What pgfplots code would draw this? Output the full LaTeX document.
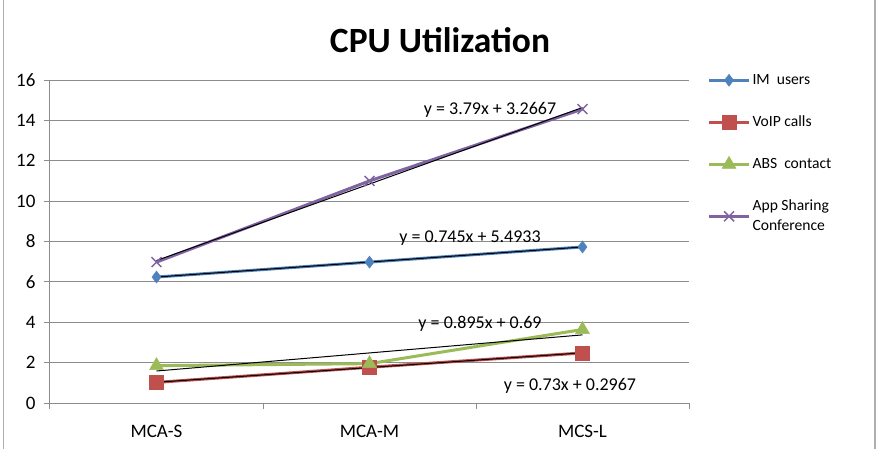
\documentclass[border=0pt]{standalone}
\usepackage{pgfplots}
\pgfplotsset{compat=1.18}
\usepackage{fontspec}
\setmainfont{Carlito}

\definecolor{imblue}{HTML}{4F81BD}
\definecolor{voipred}{HTML}{C0504D}
\definecolor{absgreen}{HTML}{9BBB59}
\definecolor{apppurple}{HTML}{8064A2}
\definecolor{gridgray}{HTML}{8C8C8C}

\begin{document}
\begin{tikzpicture}[x=1pt,y=1pt]
\useasboundingbox (0pt,0pt) rectangle (881pt,448pt);
% chart frame
\draw[gridgray!70,line width=1.2pt] (3.5pt,-2pt) -- (3.5pt,450pt);
\draw[gridgray!70,line width=1.2pt] (875pt,-2pt) -- (875pt,450pt);
% title
\node[font=\fontsize{35.5}{40}\selectfont\bfseries] at (440pt,408pt) {CPU Utilization};

\begin{axis}[
  at={(50pt,45pt)}, anchor=south west,
  scale only axis, width=639pt, height=323pt,
  xmin=-0.5, xmax=2.5, ymin=0, ymax=16,
  xtick={0,1,2}, xticklabels={MCA-S,MCA-M,MCS-L},
  minor xtick={-0.5,0.5,1.5,2.5},
  ytick={0,2,...,16},
  tick align=outside,
  major tick length=6pt, minor tick length=6pt,
  major x tick style={draw=none},
  minor x tick style={gridgray,line width=1pt},
  major y tick style={gridgray,line width=1pt},
  ymajorgrids, major grid style={gridgray,line width=1pt},
  axis x line*=bottom, axis y line*=left,
  axis line style={gridgray,line width=1pt,-},
  tick label style={font=\fontsize{19}{22}\selectfont},
  /pgf/number format/assume math mode=true,
  xticklabel style={yshift=-13pt},
  yticklabel style={xshift=-5pt},
  clip=false,
  legend style={draw=none, fill=none, at={(1.024,1.03)}, anchor=north west,
    font=\fontsize{15.6}{20}\selectfont, row sep=26pt,
    cells={align=left, anchor=west}},
  legend image code/.code={\draw[mark repeat=2,mark phase=2,#1]
    plot coordinates {(0pt,0pt) (20pt,0pt) (40pt,0pt)};},
]
% measured series
\addplot[imblue, line width=3pt, mark=diamond*, mark size=6pt,
  mark options={solid,line width=0.5pt}]
  coordinates {(0,6.24) (1,6.98) (2,7.73)};
\addlegendentry{IM\ \ users}
\addplot[voipred, line width=3pt, mark=square*, mark size=7pt,
  mark options={solid,line width=0.5pt}]
  coordinates {(0,1.02) (1,1.77) (2,2.48)};
\addlegendentry{VoIP calls}
\addplot[absgreen, line width=3pt, mark=triangle*, mark size=8pt,
  mark options={solid,line width=0.5pt}]
  coordinates {(0,1.85) (1,1.95) (2,3.64)};
\addlegendentry{ABS\ \ contact}
\addplot[apppurple, line width=3pt, mark=x, mark size=7pt,
  mark options={solid,line width=1.5pt}]
  coordinates {(0,6.98) (1,11.00) (2,14.56)};
\addlegendentry{App Sharing\\Conference}

% linear trendlines (x = 1, 2, 3 at the three categories)
\addplot[black, line width=1pt, forget plot]
  coordinates {(0,6.2383) (2,7.7283)};
\addplot[black, line width=1pt, forget plot]
  coordinates {(0,1.0267) (2,2.4867)};
\addplot[black, line width=1pt, forget plot]
  coordinates {(0,1.585) (2,3.375)};
\addplot[black, line width=1pt, forget plot]
  coordinates {(0,7.0567) (2,14.6367)};

% trendline equations
\begin{scope}[every node/.style={font=\fontsize{18}{21}\selectfont}]
\node at (axis cs:1.566,14.5) {y = 3.79x + 3.2667};
\node at (axis cs:1.472,8.15) {y = 0.745x + 5.4933};
\node at (axis cs:1.519,3.9) {y = 0.895x + 0.69};
\node at (axis cs:1.941,0.85) {y = 0.73x + 0.2967};
\end{scope}
\end{axis}
\end{tikzpicture}
\end{document}
